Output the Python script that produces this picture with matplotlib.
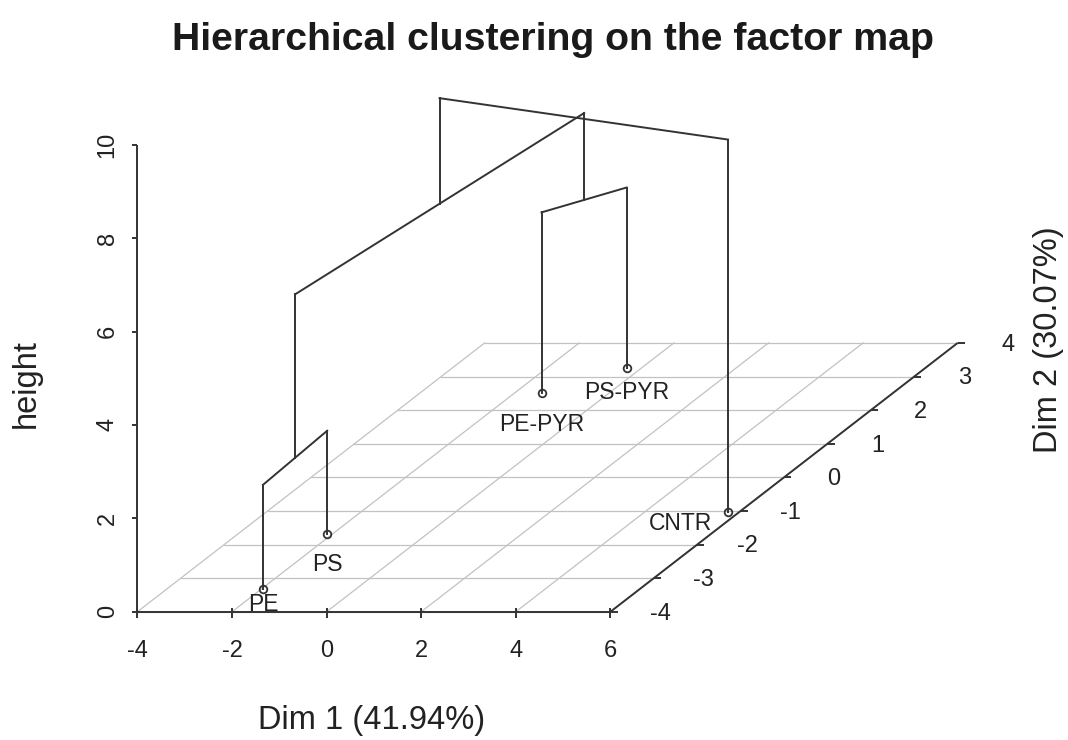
import matplotlib
matplotlib.use('Agg')
import matplotlib.pyplot as plt
import numpy as np

# individuals on the first two dimensions
labels = ["PE", "PS", "PE-PYR", "PS-PYR", "CNTR"]
dim1 = [-1.98, -2.10, -1.44, -0.32, 5.77]
dim2 = [-3.31, -1.70, 2.52, 3.26, -1.04]

# merge heights of the tree: (PE,PS), (PE-PYR,PS-PYR), both groups, then CNTR
merges = [(0, 1, 2.22), (2, 3, 3.86), (5, 6, 5.72), (7, 4, 7.98)]

x_ticks = [-4, -2, 0, 2, 4, 6]
y_ticks = [-4, -3, -2, -1, 0, 1, 2, 3, 4]
z_ticks = [0, 2, 4, 6, 8, 10]

# label offsets (pixels) from each point
label_off = [(0, -16), (0, -30), (0, -32), (0, -25), (-48, -11)]

plt.rcParams['font.family'] = ['Liberation Sans', 'DejaVu Sans']

W, H = 1068, 740
fig = plt.figure(figsize=(W / 100, H / 100), dpi=100)
ax = fig.add_axes([0, 0, 1, 1])
ax.axis('off')

# pixel scale of the oblique projection
px_x, px_z = 47.3, 46.7
ox, oz = 137.5, 611.7
cx, cz = 43.4 / px_x, 33.6 / px_z
ax.set_xlim(-4 - ox / px_x, -4 + (W - ox) / px_x)
ax.set_ylim(-(H - oz) / px_z, oz / px_z)


def proj(x, y, z):
    x, y, z = np.asarray(x, float), np.asarray(y, float), np.asarray(z, float)
    d = y - y_ticks[0]
    return x + cx * d, z + cz * d


tick_fs = 17
txt_c = '#222222'

grid_kw = dict(color='#c2c2c2', lw=0.9, zorder=1)
for y in y_ticks:
    u, v = proj([x_ticks[0], x_ticks[-1]], [y, y], [0, 0])
    ax.plot(u, v, **grid_kw)
for x in x_ticks:
    u, v = proj([x, x], [y_ticks[0], y_ticks[-1]], [0, 0])
    ax.plot(u, v, **grid_kw)

axis_kw = dict(color='#333333', lw=1.4, zorder=3, solid_capstyle='butt')
# x axis
u, v = proj([x_ticks[0], x_ticks[-1]], [-4, -4], [0, 0])
ax.plot(u, v, **axis_kw)
for x in x_ticks:
    ax.plot([x, x], [-0.13, 0.08], **axis_kw)
    ax.text(x, -0.85, str(x), ha='center', va='center', fontsize=tick_fs, color=txt_c)
# z axis
ax.plot([x_ticks[0]] * 2, [z_ticks[0], z_ticks[-1]], **axis_kw)
for z in z_ticks:
    ax.plot([x_ticks[0] - 0.12, x_ticks[0]], [z, z], **axis_kw)
    ax.text(x_ticks[0] - 0.63, z, str(z), ha='center', va='center', rotation=90,
            fontsize=tick_fs, color=txt_c)
# y axis
u, v = proj([6, 6], [y_ticks[0], y_ticks[-1]], [0, 0])
ax.plot(u, v, **axis_kw)
for y in y_ticks:
    u, v = proj(6, y, 0)
    ax.plot([u, u + 0.15], [v, v], **axis_kw)
    ax.annotate(str(y), (u, v), xytext=(50, -2), textcoords='offset pixels',
                ha='center', va='center', fontsize=tick_fs, color=txt_c)

# points on the floor
pu, pv = proj(dim1, dim2, np.zeros(len(dim1)))
ax.plot(pu, pv, 'o', ms=5.5, mfc='none', mec='#333333', mew=1.3, zorder=5)
for i, name in enumerate(labels):
    ax.annotate(name, (pu[i], pv[i]), xytext=label_off[i], textcoords='offset pixels',
                ha='center', va='center', fontsize=16.5, color=txt_c, zorder=6)

# tree: each node sits at the mean position of its two children
nx, ny, nz = list(dim1), list(dim2), [0.0] * len(dim1)
line_kw = dict(color='#333333', lw=1.4, zorder=4)
for a, b, h in merges:
    for k in (a, b):
        u, v = proj([nx[k], nx[k]], [ny[k], ny[k]], [nz[k], h])
        ax.plot(u, v, **line_kw)
    u, v = proj([nx[a], nx[b]], [ny[a], ny[b]], [h, h])
    ax.plot(u, v, **line_kw)
    nx.append((nx[a] + nx[b]) / 2)
    ny.append((ny[a] + ny[b]) / 2)
    nz.append(h)

fig.text(553 / W, 1 - 40 / H, "Hierarchical clustering on the factor map",
         ha='center', va='center', fontsize=28.3, fontweight='bold', color='#1a1a1a')
fig.text(372 / W, 1 - 720 / H, "Dim 1 (41.94%)", ha='center', va='center',
         fontsize=23.5, color=txt_c)
fig.text(26 / W, 1 - 384 / H, "height", ha='center', va='center', rotation=90,
         fontsize=23.5, color=txt_c)
fig.text(1049 / W, 1 - 340 / H, "Dim 2 (30.07%)", ha='center', va='center', rotation=90,
         fontsize=23.5, color=txt_c)

fig.savefig('out.png', dpi=100, facecolor='white')
